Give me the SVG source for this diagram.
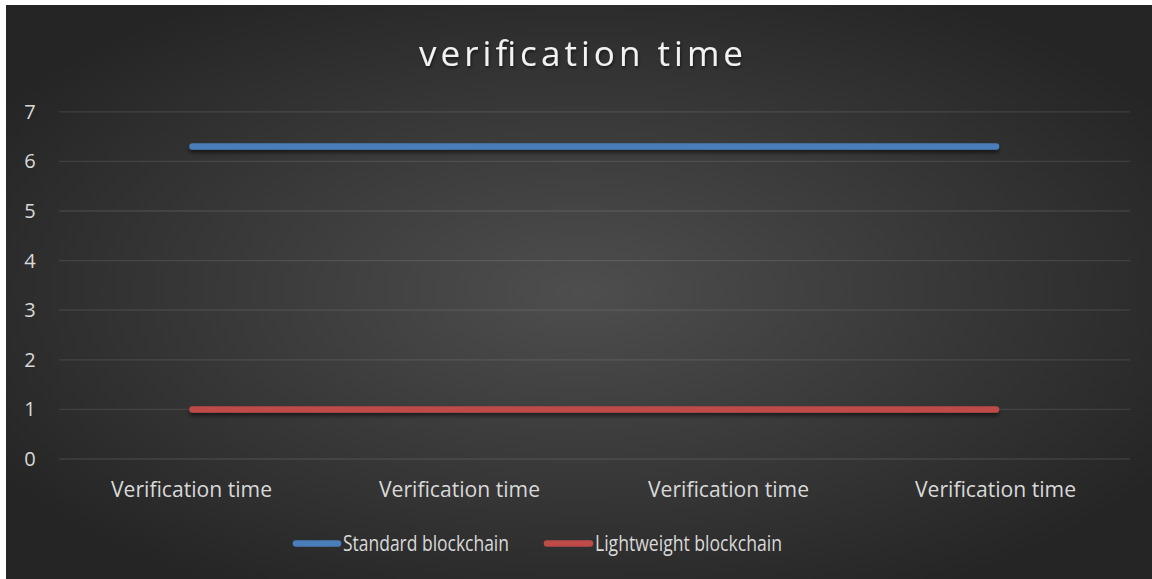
<svg xmlns="http://www.w3.org/2000/svg" width="1152" height="579" viewBox="0 0 1152 579">
  <defs>
    <radialGradient id="bg" cx="50%" cy="50%" r="60%">
      <stop offset="0" stop-color="#4e4e4e"/>
      <stop offset="1" stop-color="#252525"/>
    </radialGradient>
    <filter id="shadow" filterUnits="userSpaceOnUse" x="0" y="0" width="1152" height="579">
      <feDropShadow dx="0" dy="3" stdDeviation="2" flood-color="#000" flood-opacity="0.55"/>
    </filter>
    <filter id="tshadow" filterUnits="userSpaceOnUse" x="0" y="0" width="1152" height="120">
      <feDropShadow dx="1" dy="2" stdDeviation="1.5" flood-color="#000" flood-opacity="0.5"/>
    </filter>
  </defs>
  <style>
    .grid { stroke: #ffffff; stroke-opacity: 0.1; stroke-width: 1.3; }
    .series { fill: none; stroke-width: 6.5; stroke-linecap: round; }
    .blue { stroke: #4a7ebb; }
    .red { stroke: #be4b48; }
    .lbl { font-family: "Open Sans", "Liberation Sans", sans-serif; font-size: 21.5px; fill: #d9d9d9; }
    .ylbl { font-family: "Open Sans", "Liberation Sans", sans-serif; font-size: 20px; fill: #d9d9d9; }
    .title { font-family: "Open Sans", "Liberation Sans", sans-serif; font-size: 35px; fill: #f2f2f2; }
  </style>
  <rect x="0" y="0" width="1152" height="579" fill="#ffffff"/>
  <rect x="6" y="5" width="1146" height="574" fill="url(#bg)"/>

  <text class="title" x="419" y="65.5" textLength="324" lengthAdjust="spacing" filter="url(#tshadow)">verification time</text>

  <g id="grid">
    <line class="grid" x1="59" y1="459" x2="1130" y2="459"/>
    <line class="grid" x1="59" y1="409.4" x2="1130" y2="409.4"/>
    <line class="grid" x1="59" y1="359.8" x2="1130" y2="359.8"/>
    <line class="grid" x1="59" y1="310.2" x2="1130" y2="310.2"/>
    <line class="grid" x1="59" y1="260.6" x2="1130" y2="260.6"/>
    <line class="grid" x1="59" y1="211" x2="1130" y2="211"/>
    <line class="grid" x1="59" y1="161.4" x2="1130" y2="161.4"/>
    <line class="grid" x1="59" y1="111.8" x2="1130" y2="111.8"/>
  </g>

  <g id="y-axis" class="ylbl" text-anchor="middle">
    <text x="30" y="466">0</text>
    <text x="30" y="416.4">1</text>
    <text x="30" y="366.8">2</text>
    <text x="30" y="317.2">3</text>
    <text x="30" y="267.6">4</text>
    <text x="30" y="218">5</text>
    <text x="30" y="168.4">6</text>
    <text x="30" y="118.8">7</text>
  </g>

  <g id="x-axis" class="lbl">
    <text x="111" y="497" textLength="161" lengthAdjust="spacingAndGlyphs">Verification time</text>
    <text x="379" y="497" textLength="161" lengthAdjust="spacingAndGlyphs">Verification time</text>
    <text x="648" y="497" textLength="161" lengthAdjust="spacingAndGlyphs">Verification time</text>
    <text x="915" y="497" textLength="161" lengthAdjust="spacingAndGlyphs">Verification time</text>
  </g>

  <g id="connectors">
    <polyline id="standard" class="series blue" filter="url(#shadow)" points="192.5,146.5 460.5,146.5 728.5,146.5 996,146.5"/>
    <polyline id="lightweight" class="series red" filter="url(#shadow)" points="192.5,409.4 460.5,409.4 728.5,409.4 996,409.4"/>
  </g>

  <g id="legend">
    <g id="legend-standard">
      <line class="series blue" x1="296" y1="543.5" x2="338" y2="543.5"/>
      <text class="lbl" x="343" y="551" textLength="166" lengthAdjust="spacingAndGlyphs">Standard blockchain</text>
    </g>
    <g id="legend-lightweight">
      <line class="series red" x1="547" y1="543.5" x2="590" y2="543.5"/>
      <text class="lbl" x="595" y="551" textLength="187" lengthAdjust="spacingAndGlyphs">Lightweight blockchain</text>
    </g>
  </g>
</svg>
